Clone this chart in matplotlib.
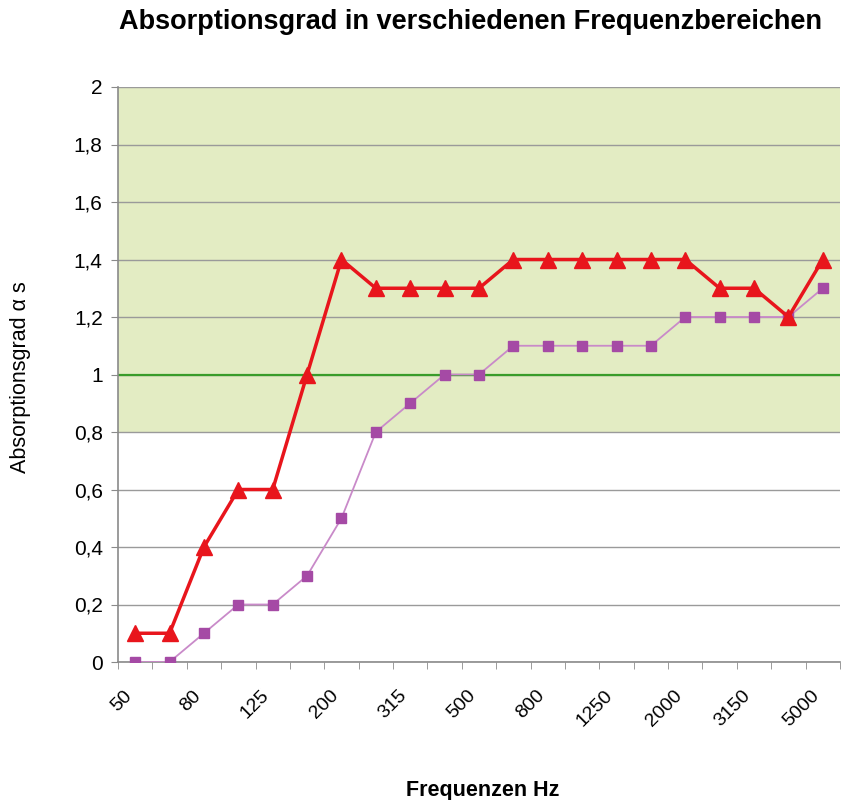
import matplotlib
matplotlib.use("Agg")
import matplotlib.pyplot as plt
from matplotlib.ticker import FixedLocator, FuncFormatter
from matplotlib.transforms import ScaledTranslation

plt.rcParams['font.family'] = ['Liberation Sans', 'DejaVu Sans']

frequencies = ["50", "63", "80", "100", "125", "160", "200", "250", "315", "400", "500",
               "630", "800", "1000", "1250", "1600", "2000", "2500", "3150", "4000", "5000"]
red_values = [0.1, 0.1, 0.4, 0.6, 0.6, 1.0, 1.4, 1.3, 1.3, 1.3, 1.3,
              1.4, 1.4, 1.4, 1.4, 1.4, 1.4, 1.3, 1.3, 1.2, 1.4]
purple_values = [0.0, 0.0, 0.1, 0.2, 0.2, 0.3, 0.5, 0.8, 0.9, 1.0, 1.0,
                 1.1, 1.1, 1.1, 1.1, 1.1, 1.2, 1.2, 1.2, 1.2, 1.3]
y_ticks = [0, 0.2, 0.4, 0.6, 0.8, 1.0, 1.2, 1.4, 1.6, 1.8, 2.0]
band_low, band_high = 0.8, 2.0
reference_level = 1.0

fig = plt.figure(figsize=(8.43, 8.0), dpi=100)
ax = fig.add_axes([118/843, 1-662/800, (840-118)/843, (662-87)/800])

x = list(range(len(frequencies)))
ax.set_xlim(-0.5, len(frequencies) - 0.5)
ax.set_ylim(0, 2)

ax.axhspan(band_low, band_high, color='#e3ecc3', zorder=0, lw=0)
for yt in y_ticks:
    ax.axhline(yt, color='#9a9a9a', lw=1.0, zorder=1)
ax.axhline(reference_level, color='#3a9c2a', lw=1.6, zorder=2)

ax.plot(x, purple_values, color='#c98ac9', lw=1.3, marker='s', ms=7,
        mfc='#a54aa5', mec='#a54aa5', zorder=3)
ax.plot(x, red_values, color='#e8151c', lw=2.5, marker='^', ms=12,
        mfc='#e8151c', mec='#e8151c', zorder=4)

# y axis
ax.set_yticks(y_ticks)
ax.yaxis.set_major_formatter(FuncFormatter(lambda v, p: ('%g' % round(v, 1)).replace('.', ',')))
ax.tick_params(axis='y', length=5, color='#8a8a8a', labelsize=15, pad=6)

# x axis: labels at category centers (every other), tick marks at boundaries
ax.xaxis.set_major_locator(FixedLocator(x[::2]))
ax.set_xticklabels(frequencies[::2], rotation=45, ha='right', va='top',
                   rotation_mode='anchor')
ax.xaxis.set_minor_locator(FixedLocator([i - 0.5 for i in range(len(frequencies) + 1)]))
ax.tick_params(axis='x', which='major', length=0, labelsize=14, pad=18)
ax.tick_params(axis='x', which='minor', length=5, color='#8a8a8a')
shift = ScaledTranslation(-12/100, 0, fig.dpi_scale_trans)
for lab in ax.get_xticklabels():
    lab.set_transform(lab.get_transform() + shift)

for s in ['top', 'right']:
    ax.spines[s].set_visible(False)
for s in ['left', 'bottom']:
    ax.spines[s].set_color('#8a8a8a')
    ax.spines[s].set_linewidth(1.2)

fig.text(0.558, 0.972, 'Absorptionsgrad in verschiedenen Frequenzbereichen',
         ha='center', va='center', fontsize=19.5, fontweight='bold')
fig.text(0.573, 0.012, 'Frequenzen Hz', ha='center', va='center',
         fontsize=15.5, fontweight='bold')
fig.text(0.024, 0.529, 'Absorptionsgrad α s', ha='center', va='center',
         rotation=90, fontsize=15.5)

fig.savefig('out.png', dpi=100)
